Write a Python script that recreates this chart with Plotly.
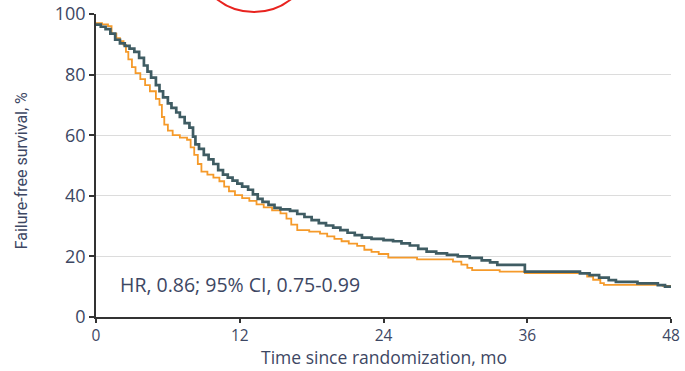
import plotly.graph_objects as go

# Kaplan-Meier failure-free survival, two treatment arms
months_a = [0, 0.4, 0.8, 1.2, 1.6, 2.0, 2.4, 2.8, 3.2, 3.6, 4.0, 4.3, 4.6, 5.0, 5.3,
            5.6, 6.0, 6.3, 6.7, 7.0, 7.4, 7.8, 8.1, 8.3, 8.6, 9.0, 9.4, 9.8, 10.2,
            10.6, 11.0, 11.4, 11.8, 12.2, 12.7, 13.1, 13.5, 13.9, 14.4, 14.9, 15.4,
            16.2, 16.8, 17.4, 18.0, 18.6, 19.2, 19.8, 20.4, 21.0, 21.6, 22.2, 23.0,
            24.0, 24.8, 25.5, 26.2, 26.9, 27.6, 28.4, 29.3, 30.2, 31.2, 32.2, 32.9,
            33.5, 35.8, 40.4, 41.2, 42.0, 42.8, 43.4, 45.2, 46.9, 47.5, 48.0]
surv_a = [96.5, 95.8, 95.0, 93.5, 91.5, 90.3, 89.5, 88.6, 87.5, 85.5, 83.0, 81.0,
          79.0, 76.5, 74.5, 72.5, 70.5, 69.0, 67.5, 66.0, 64.0, 62.5, 59.5, 57.0,
          55.5, 53.5, 52.0, 50.5, 48.5, 47.0, 46.0, 45.0, 44.0, 43.0, 42.0, 40.5,
          39.0, 38.0, 37.0, 36.0, 35.5, 35.0, 34.0, 33.0, 32.0, 31.0, 30.2, 29.5,
          28.7, 27.8, 27.0, 26.2, 25.8, 25.4, 25.0, 24.3, 23.6, 22.5, 21.6, 21.0,
          20.5, 20.0, 19.5, 18.7, 18.0, 17.2, 15.0, 14.4, 13.8, 13.0, 12.2, 11.6,
          11.1, 10.5, 10.0, 10.0]

months_b = [0, 0.5, 1.0, 1.3, 1.7, 2.0, 2.3, 2.5, 2.7, 3.0, 3.3, 3.7, 4.1, 4.5, 5.0,
            5.3, 5.5, 5.7, 6.0, 6.4, 7.0, 7.6, 7.9, 8.2, 8.5, 8.8, 9.3, 9.8, 10.3,
            10.7, 11.1, 11.6, 12.2, 12.8, 13.4, 14.0, 14.7, 15.4, 15.9, 16.3, 16.8,
            17.8, 18.7, 19.3, 19.9, 20.5, 21.1, 21.8, 22.4, 23.0, 23.6, 24.4, 26.8,
            29.8, 30.5, 31.0, 31.4, 33.7, 35.8, 41.0, 41.5, 42.1, 42.4, 47.3, 48.0]
surv_b = [97.0, 96.6, 96.0, 93.5, 92.0, 91.0, 89.8, 87.5, 85.0, 82.5, 80.5, 78.5,
          76.5, 74.5, 72.0, 70.0, 66.0, 63.5, 61.5, 60.0, 59.2, 58.5, 56.0, 53.5,
          50.5, 48.0, 47.0, 46.0, 44.8, 43.0, 41.5, 40.2, 39.2, 38.3, 37.2, 36.2,
          35.2, 34.2, 32.5, 30.5, 28.7, 28.2, 27.5, 26.6, 25.8, 25.0, 24.2, 23.5,
          22.2, 21.5, 20.8, 19.6, 19.0, 18.3, 17.3, 16.2, 15.5, 15.0, 14.5, 13.3,
          12.3, 11.2, 10.6, 10.3, 10.0]

x_ticks = [0, 12, 24, 36, 48]
y_ticks = [0, 20, 40, 60, 80, 100]
hr_label = "HR, 0.86; 95% CI, 0.75-0.99"

TEXT = "#3d4763"
FONT = "Open Sans, Noto Sans, sans-serif"

fig = go.Figure()
fig.add_trace(go.Scatter(x=months_b, y=surv_b, mode="lines", line_shape="hv",
                         line=dict(color="#f59a2a", width=1.8), showlegend=False))
fig.add_trace(go.Scatter(x=months_a, y=surv_a, mode="lines", line_shape="hv",
                         line=dict(color="#3f5c63", width=2.7), showlegend=False))

fig.add_annotation(x=1.84, y=10.6, xref="x", yref="y", text=hr_label,
                   showarrow=False, xanchor="left", yanchor="middle",
                   font=dict(family=FONT, size=19.5, color=TEXT))

# axis titles
fig.add_annotation(x=0.5, y=-0.133, xref="paper", yref="paper",
                   text="Time since randomization, mo", showarrow=False,
                   xanchor="center", yanchor="middle", borderpad=0,
                   font=dict(family=FONT, size=17.5, color=TEXT))
fig.add_annotation(x=-0.128, y=0.482, xref="paper", yref="paper",
                   text="Failure-free survival, %", showarrow=False, textangle=-90,
                   xanchor="center", yanchor="middle",
                   font=dict(family="Liberation Sans Narrow, Roboto, sans-serif",
                             size=16, color=TEXT))

# red marker circle partly above the plot
fig.add_shape(type="circle", xref="paper", yref="paper",
              x0=0.1704, x1=0.3791, y0=1.0066, y1=1.4026,
              line=dict(color="#e8231f", width=2))

fig.update_xaxes(range=[0, 48], tickvals=x_ticks, ticks="outside", ticklen=4,
                 tickwidth=1.5, tickcolor="#333333", showline=True, linewidth=1.5,
                 linecolor="#333333", showgrid=False, zeroline=False, automargin=False,
                 tickfont=dict(family=FONT, size=15.5, color=TEXT))
fig.update_yaxes(range=[0, 100], tickvals=y_ticks, ticks="outside", ticklen=5,
                 tickwidth=1.5, tickcolor="#333333", showline=True, linewidth=1.5,
                 linecolor="#333333", showgrid=True, gridcolor="#dcdcdc",
                 gridwidth=1, zeroline=False, automargin=False,
                 tickfont=dict(family=FONT, size=18, color=TEXT))

fig.update_layout(width=685, height=371, margin=dict(l=96, r=14, t=14, b=54),
                  plot_bgcolor="white", paper_bgcolor="white")

fig.write_html("out.html")
